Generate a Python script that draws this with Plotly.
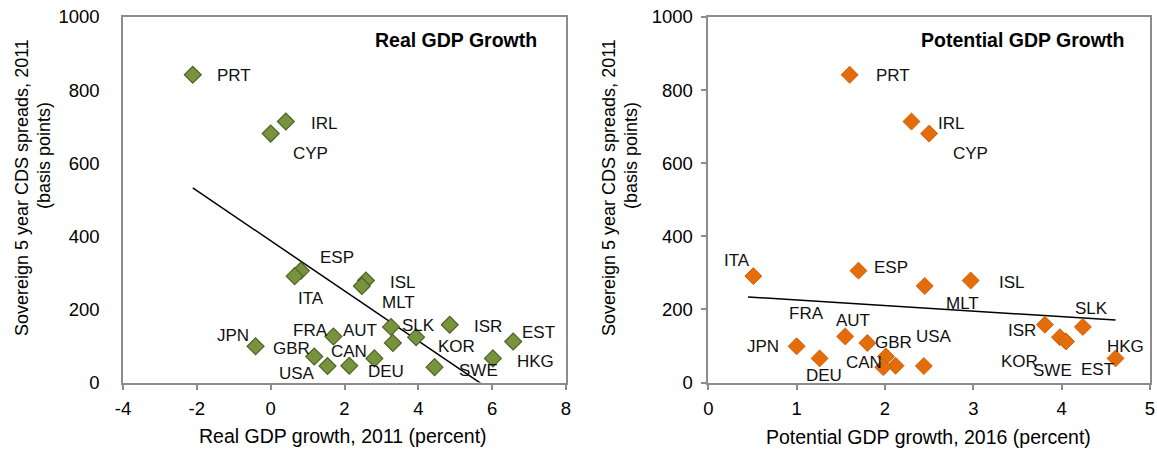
import numpy as np
import plotly.graph_objects as go

# ---------------- data ----------------
countries = ["PRT", "IRL", "CYP", "ESP", "ITA", "ISL", "MLT", "JPN", "FRA", "AUT",
             "GBR", "USA", "CAN", "DEU", "SLK", "KOR", "SWE", "ISR", "HKG", "EST"]
cds_spreads = [842, 714, 681, 306, 291, 279, 264, 99, 126, 108,
               71, 45, 46, 66, 152, 124, 42, 158, 66, 112]
real_gdp_growth_2011 = [-2.11, 0.41, 0.0, 0.82, 0.65, 2.58, 2.47, -0.41, 1.70, 3.31,
                        1.18, 1.54, 2.13, 2.81, 3.26, 3.94, 4.44, 4.85, 6.02, 6.57]
potential_gdp_growth_2016 = [1.60, 2.30, 2.50, 1.70, 0.51, 2.97, 2.45, 1.00, 1.55, 1.80,
                             2.01, 2.44, 2.12, 1.26, 4.24, 3.98, 1.98, 3.81, 4.61, 4.05]

# trend line of the potential-growth panel
potential_trend_x = [0.45, 4.61]
potential_trend_y = [234, 171]

left_xticks = [-4, -2, 0, 2, 4, 6, 8]
right_xticks = [0, 1, 2, 3, 4, 5]
yticks = [0, 200, 400, 600, 800, 1000]

# label offsets in pixels (dx right, dy down) -- styling only
left_label_offsets = {
    "PRT": (41, 1), "IRL": (38, 2), "CYP": (40, 20), "ESP": (36, -13), "ITA": (16, 22),
    "ISL": (37, 2), "MLT": (37, 16), "JPN": (-23, -11), "FRA": (-23, -6), "AUT": (-33, -13),
    "GBR": (-23, -8), "USA": (-31, 7), "CAN": (0, -14), "DEU": (12, 13), "SLK": (27, -1),
    "KOR": (40, 9), "SWE": (44, 3), "ISR": (38, 2), "HKG": (43, 3), "EST": (25, -9),
}
right_label_offsets = {
    "PRT": (43, 1), "IRL": (40, 2), "CYP": (41, 20), "ESP": (33, -3), "ITA": (-16, -16),
    "ISL": (41, 2), "MLT": (38, 17), "JPN": (-34, 0), "FRA": (-39, -23), "AUT": (-14, -23),
    "GBR": (8, -14), "USA": (10, -30), "CAN": (-32, -3), "DEU": (4, 17), "SLK": (9, -18),
    "KOR": (-40, 24), "SWE": (169, 3), "ISR": (-23, 6), "HKG": (10, -12), "EST": (31, 28),
}

FONT = "Liberation Sans, Arial, sans-serif"
GRID = "#8c8c8c"
W, H = 1157, 454

def px_x(p):
    return p / W

def px_y(p):
    return 1 - p / H

left_dom = [px_x(123), px_x(566)]
right_dom = [px_x(708.3), px_x(1150)]
y_dom = [px_y(382.5), px_y(17)]

fig = go.Figure()

# left trend line: least-squares fit (Excel linear trendline)
xs_arr = np.array(real_gdp_growth_2011)
b, a = np.polyfit(xs_arr, np.array(cds_spreads), 1)
tx = np.array([xs_arr.min(), xs_arr.max()])
fig.add_trace(go.Scatter(x=tx, y=a + b * tx, mode="lines",
                         line=dict(color="black", width=1.5),
                         xaxis="x", yaxis="y", showlegend=False, hoverinfo="skip"))
fig.add_trace(go.Scatter(x=potential_trend_x, y=potential_trend_y, mode="lines",
                         line=dict(color="black", width=1.5),
                         xaxis="x2", yaxis="y2", showlegend=False, hoverinfo="skip"))

fig.add_trace(go.Scatter(x=real_gdp_growth_2011, y=cds_spreads, mode="markers",
                         marker=dict(symbol="diamond", size=13, color="#77933C",
                                     line=dict(color="#4F6228", width=1.2)),
                         xaxis="x", yaxis="y", showlegend=False, text=countries))
fig.add_trace(go.Scatter(x=potential_gdp_growth_2016, y=cds_spreads, mode="markers",
                         marker=dict(symbol="diamond", size=13, color="#E46C0A",
                                     line=dict(color="#D0600A", width=1)),
                         xaxis="x2", yaxis="y2", showlegend=False, text=countries))

LABEL_FONT = dict(family=FONT, size=17, color="#111")
annotations = []
for c, xv, yv in zip(countries, real_gdp_growth_2011, cds_spreads):
    dx, dy = left_label_offsets[c]
    annotations.append(dict(x=xv, y=yv, xref="x", yref="y", text=c, showarrow=False,
                            xshift=dx, yshift=-dy, font=LABEL_FONT))
for c, xv, yv in zip(countries, potential_gdp_growth_2016, cds_spreads):
    dx, dy = right_label_offsets[c]
    annotations.append(dict(x=xv, y=yv, xref="x2", yref="y2", text=c, showarrow=False,
                            xshift=dx, yshift=-dy, font=LABEL_FONT))

def paper_text(text, xc, yc, size, angle=0, xanchor="center"):
    return dict(x=px_x(xc), y=px_y(yc), xref="paper", yref="paper", text=text,
                showarrow=False, textangle=angle, xanchor=xanchor, yanchor="middle",
                font=dict(family=FONT, size=size, color="black"))

# panel titles
annotations.append(paper_text("<b>Real GDP Growth</b>", 539, 40, 19.5, xanchor="right"))
annotations.append(paper_text("<b>Potential GDP Growth</b>", 1126, 40, 19.5, xanchor="right"))
# y-axis titles (two lines)
for x1, x2 in ((22, 44), (609, 631)):
    annotations.append(paper_text("Sovereign 5 year CDS spreads, 2011", x1, 188, 18, angle=-90))
    annotations.append(paper_text("(basis points)", x2, 155, 18, angle=-90))
# x-axis titles
annotations.append(paper_text("Real GDP growth, 2011 (percent)", 343, 436, 19.5))
annotations.append(paper_text("Potential GDP growth, 2016 (percent)", 928, 437, 19.5))

tickfont = dict(family=FONT, size=18.5, color="black")
common_x = dict(showgrid=False, zeroline=False, showline=True, mirror=True, linecolor=GRID,
                linewidth=1.5, ticks="outside", ticklen=6, tickcolor=GRID, tickwidth=1.5,
                tickfont=tickfont, ticklabelstandoff=3, automargin=False)

fig.update_layout(
    width=W, height=H, margin=dict(l=0, r=0, t=0, b=0, autoexpand=False),
    paper_bgcolor="white", plot_bgcolor="white",
    annotations=annotations,
    xaxis=dict(domain=left_dom, range=[-4, 8], tickvals=left_xticks,
               ticktext=[str(v) for v in left_xticks], anchor="y", **common_x),
    yaxis=dict(domain=y_dom, range=[0, 1000], tickvals=yticks, anchor="x", showgrid=False,
               zeroline=False, showline=True, mirror=True, linecolor=GRID, linewidth=1.5,
               ticks="", tickfont=tickfont, ticklabelstandoff=18, automargin=False),
    yaxis3=dict(domain=y_dom, range=[0, 1000], tickvals=yticks, overlaying="y", anchor="free",
                position=left_dom[0] + (left_dom[1] - left_dom[0]) * 4 / 12,
                showgrid=False, zeroline=False, showline=True, linecolor=GRID, linewidth=1.5,
                ticks="outside", ticklen=6, tickcolor=GRID, tickwidth=1.5, showticklabels=False,
                automargin=False),
    xaxis2=dict(domain=right_dom, range=[0, 5], tickvals=right_xticks,
                ticktext=[str(v) for v in right_xticks], anchor="y2", **common_x),
    yaxis2=dict(domain=y_dom, range=[0, 1000], tickvals=yticks, anchor="x2", showgrid=False,
                zeroline=False, showline=True, mirror=True, linecolor=GRID, linewidth=1.5,
                ticks="outside", ticklen=6, tickcolor=GRID, tickwidth=1.5,
                tickfont=tickfont, ticklabelstandoff=4, automargin=False),
)

fig.write_html("out.html", config={"displayModeBar": False},
               post_script="document.body.style.margin='0';document.body.style.overflow='hidden';")
